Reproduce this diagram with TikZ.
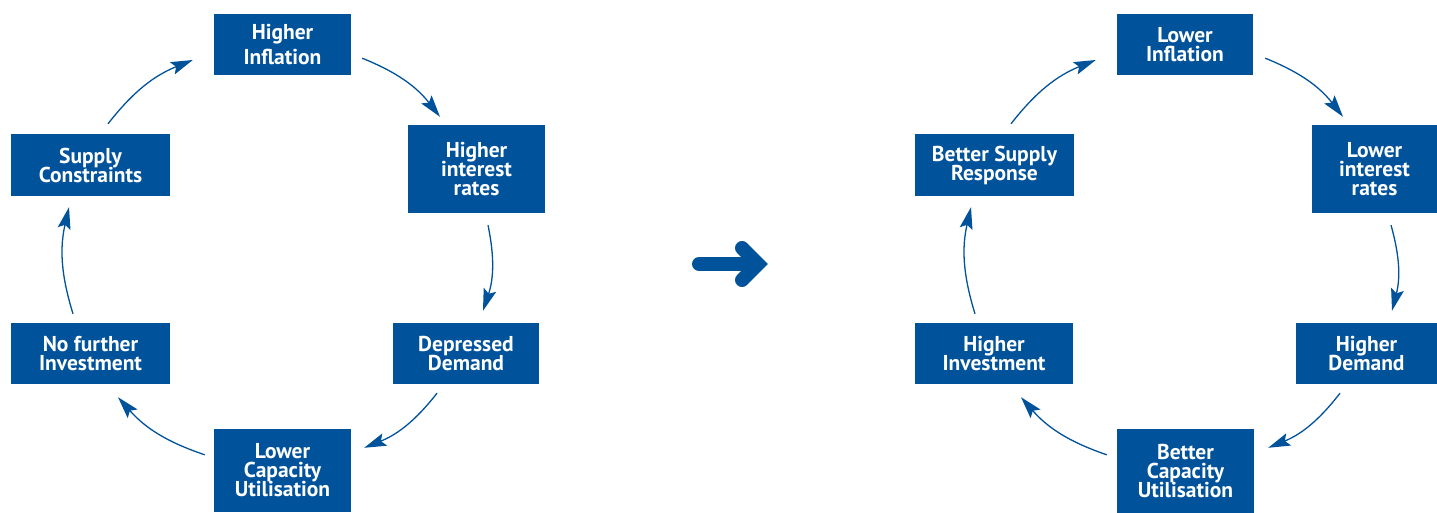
\documentclass[tikz,border=0pt]{standalone}
\usepackage{fontspec}
\setmainfont{PT Sans}
\usetikzlibrary{arrows.meta}
\definecolor{boxblue}{RGB}{0,82,155}
\newcommand\myboxfont{\bfseries\fontsize{21.5}{19}\selectfont\lineskiplimit=-20pt\relax}
\tikzset{
  box/.style={fill=boxblue, text=white, font=\myboxfont,
    align=center, inner sep=0pt, anchor=center},
  cyc/.style={draw=boxblue, line width=1.3pt, -{Stealth[length=22pt,width=13pt,inset=4pt]}, bend left=15},
  bigarrow/.style={draw=boxblue, line width=14pt, line cap=round}
}
\begin{document}
\begin{tikzpicture}[x=1pt,y=-1pt]
\useasboundingbox (0,0) rectangle (1437,513);
% left cycle
\node[box, minimum width=137pt, minimum height=61pt] (HI) at (282.5,44.5) {Higher\\[6pt]Inflation};
\node[box, minimum width=137pt, minimum height=88pt] (HIR) at (476.5,169) {Higher\\interest\\rates};
\node[box, minimum width=146pt, minimum height=61pt] (DD) at (466,353.5) {Depressed\\Demand};
\node[box, minimum width=137pt, minimum height=83pt] (LCU) at (282.5,470.5) {Lower\\Capacity\\Utilisation};
\node[box, minimum width=159pt, minimum height=61pt] (NFI) at (90.5,353.5) {No further\\Investment};
\node[box, minimum width=159pt, minimum height=62pt] (SC) at (90.5,165) {Supply\\Constraints};
\draw[cyc] ([shift={(11,-17)}]HI.south east) to ([shift={(-36.5,-8)}]HIR.north);
\draw[cyc] ([shift={(11.5,12)}]HIR.south) to ([shift={(17,-12)}]DD.north);
\draw[cyc] ([shift={(-29,9)}]DD.south) to ([shift={(13,19)}]LCU.north east);
\draw[cyc] ([shift={(-9,26)}]LCU.north west) to ([shift={(27.5,13)}]NFI.south);
\draw[cyc] ([shift={(-17.5,-9)}]NFI.north) to ([shift={(-21.5,11)}]SC.south);
\draw[cyc] ([shift={(17.5,-10)}]SC.north) to ([shift={(-21,15.5)}]HI.west);
% middle arrow
\draw[bigarrow] (699,264) -- (756,264);
\draw[bigarrow, line join=miter] (742,248) -- (758,264) -- (742,280);
% right cycle
\node[box, minimum width=136pt, minimum height=61pt] (LI) at (1185,44.5) {Lower\\Inflation};
\node[box, minimum width=125pt, minimum height=88pt] (LIR) at (1374.5,169) {Lower\\interest\\rates};
\node[box, minimum width=141pt, minimum height=61pt] (HD) at (1366.5,353.5) {Higher\\Demand};
\node[box, minimum width=137pt, minimum height=84pt] (BCU) at (1185.5,471) {Better\\Capacity\\Utilisation};
\node[box, minimum width=158pt, minimum height=61pt] (HIv) at (994,353.5) {Higher\\Investment};
\node[box, minimum width=159pt, minimum height=62pt] (BSR) at (994.5,165) {Better Supply\\Response};
\draw[cyc] ([shift={(12,-17)}]LI.south east) to ([shift={(-31.5,-8)}]LIR.north);
\draw[cyc] ([shift={(16.5,12)}]LIR.south) to ([shift={(25.5,-12)}]HD.north);
\draw[cyc] ([shift={(-26.5,9)}]HD.south) to ([shift={(14,19)}]BCU.north east);
\draw[cyc] ([shift={(-10,26)}]BCU.north west) to ([shift={(27,13)}]HIv.south);
\draw[cyc] ([shift={(-19,-9)}]HIv.north) to ([shift={(-23.5,11)}]BSR.south);
\draw[cyc] ([shift={(16.5,-10)}]BSR.north) to ([shift={(-21,15.5)}]LI.west);
\end{tikzpicture}
\end{document}
